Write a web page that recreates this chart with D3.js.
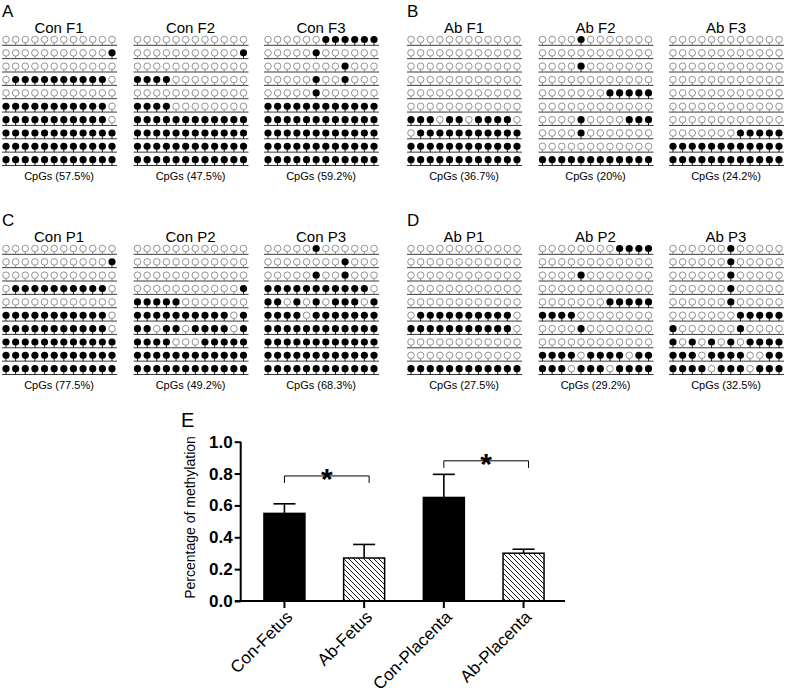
<!DOCTYPE html>
<html><head><meta charset="utf-8">
<script src="https://cdn.jsdelivr.net/npm/d3@7"></script>
<style>body{margin:0;background:#fff}svg{display:block;font-family:Arial,"Liberation Sans",sans-serif}</style>
</head><body><svg id="c" width="787" height="695"></svg>
<script>
// ---- methylation patterns (1 = methylated / filled, 0 = unmethylated / open) ----
const conF1 = ["000000000000","000000000001","000000000000","011111111110","000000000000","111111111110","111111111110","111111111111","111111111111","111111111111"];
const conF2 = ["000000000000","000000000001","000000000000","111100000000","000000000000","111100000000","111111111111","111111111111","111111111111","111111111111"];
const conF3 = ["000000111111","000001000000","000000001000","000001001000","000001000000","111111111111","111111111111","111111111111","111111111111","111111111111"];
const abF1 = ["000000000000","000000000000","000000000000","000000000000","000000000000","000000000000","111011011110","011111111111","111111111111","111111111111"];
const abF2 = ["000010000000","000000000000","000010000000","000000000000","000000011111","000000000000","000010000111","000010000000","000000000000","111111111111"];
const abF3 = ["000000000000","000000000000","000000000000","000000000000","000000000000","000000000000","000000000000","000000011111","111111111111","111111111111"];
const conP1 = ["000000000000","000000000001","000000000000","011111111110","000000000000","111111111110","111111111110","111111111111","111111111111","111111111111"];
const conP2 = ["000000000000","000000000000","000000000000","000000000001","111110000000","111111111101","110110111101","111100011111","111111111111","111111111111"];
const conP3 = ["000001000000","000000001000","000001001000","111111111110","110101011101","111101111111","111111111111","111111111111","111111111111","111111111111"];
const abP1 = ["000000000000","000000000000","000000000000","000000000000","000000000000","011111111110","111111111110","000000000000","000000000000","111111111111"];
const abP2 = ["000000001111","000000000000","000010000000","000000000000","000000011111","111100000000","000010000000","000000000000","111101111011","111011101111"];
const abP3 = ["000000100000","000000100000","000000100000","000000100000","000000100000","000000011111","100000010000","101010101111","111011110011","111101110111"];

const panelLetters = ["A","B","C","D"];
const panelNames = [["Con F1","Con F2","Con F3"],["Ab F1","Ab F2","Ab F3"],["Con P1","Con P2","Con P3"],["Ab P1","Ab P2","Ab P3"]];
const panelPatterns = [[conF1,conF2,conF3],[abF1,abF2,abF3],[conP1,conP2,conP3],[abP1,abP2,abP3]];
const panelPercents = [["57.5%","47.5%","59.2%"],["36.7%","20%","24.2%"],["77.5%","49.2%","68.3%"],["27.5%","29.2%","32.5%"]];

// ---- bar chart (panel E) ----
const groups = ["Con-Fetus","Ab-Fetus","Con-Placenta","Ab-Placenta"];
const means = [0.55, 0.27, 0.65, 0.30];
const sds = [0.06, 0.085, 0.145, 0.025];
const yTicks = [0, 0.2, 0.4, 0.6, 0.8, 1.0];
const sigPairs = [[0,1],[2,3]];

const svg = d3.select("#c");

// ---------- lollipop panels ----------
const panelX0 = [0, 405, 0, 405];
const panelY0 = [39.5, 39.5, 248.5, 248.5];
const subCx = [59, 190.5, 321];
const rowSpan = 120.2;

panelLetters.forEach((L, p) => {
  const g = svg.append("g");
  g.append("text").attr("x", panelX0[p] + 2).attr("y", panelY0[p] - 22.5)
    .attr("font-size", 17).text(L);
  panelPatterns[p].forEach((pat, s) => {
    const cx = panelX0[p] + subCx[s];
    const x = d3.scaleLinear().domain([0, 11]).range([cx - 53, cx + 53]);
    const y = d3.scaleLinear().domain([0, 9]).range([panelY0[p], panelY0[p] + rowSpan]);
    const sg = g.append("g");
    sg.append("text").attr("x", cx).attr("y", panelY0[p] - 6.5).attr("text-anchor", "middle")
      .attr("font-size", 15).text(panelNames[p][s]);
    const rows = sg.selectAll("g.row").data(pat).join("g").attr("class", "row");
    rows.append("line").attr("x1", x(0) - 4).attr("x2", x(11) + 5)
      .attr("y1", (d, i) => y(i) + 5.8).attr("y2", (d, i) => y(i) + 5.8)
      .attr("stroke", "#3a3a3a").attr("stroke-width", 1);
    rows.each(function(str, i) {
      const cells = str.split("").map((c, j) => ({j, m: c === "1"}));
      const rg = d3.select(this);
      rg.selectAll("line.stem").data(cells).join("line").attr("class", "stem")
        .attr("x1", d => x(d.j)).attr("x2", d => x(d.j))
        .attr("y1", y(i) + 3.3).attr("y2", y(i) + 5.8)
        .attr("stroke", d => d.m ? "#000" : "#777").attr("stroke-width", 0.9);
      rg.selectAll("circle").data(cells).join("circle")
        .attr("cx", d => x(d.j)).attr("cy", y(i)).attr("r", d => d.m ? 3.6 : 3.3)
        .attr("fill", d => d.m ? "#000" : "#fff")
        .attr("stroke", d => d.m ? "#000" : "#777").attr("stroke-width", d => d.m ? 0 : 0.8);
    });
    sg.append("text").attr("x", cx).attr("y", panelY0[p] + rowSpan + 20.5).attr("text-anchor", "middle")
      .attr("font-size", 11).text("CpGs (" + panelPercents[p][s] + ")");
  });
});

// ---------- bar chart ----------
const defs = svg.append("defs");
const pat = defs.append("pattern").attr("id", "hatch").attr("patternUnits", "userSpaceOnUse")
  .attr("width", 5).attr("height", 5);
pat.append("rect").attr("width", 5).attr("height", 5).attr("fill", "#fff");
pat.append("path").attr("d", "M-1,-1 L6,6 M-1,4 L1,6 M4,-1 L6,1").attr("stroke", "#000").attr("stroke-width", 0.9);

const yS = d3.scaleLinear().domain([0, 1]).range([601, 441.7]);
const xS = d3.scaleBand().domain(groups).range([244.6, 563.4]).padding(0);
const cxOf = d => xS(d) + xS.bandwidth() / 2;
const bw = 41;
const e = svg.append("g");

e.append("text").attr("x", 181).attr("y", 427).attr("font-size", 20).text("E");

// y axis
const yAxis = d3.axisLeft(yS).tickValues(yTicks).tickFormat(d3.format(".1f")).tickSize(6).tickPadding(2);
const ya = e.append("g").attr("transform", "translate(240.7,0)").call(yAxis);
ya.select(".domain").attr("stroke-width", 2).attr("d", `M0,${yS(1)}V${yS(0)}`);
ya.selectAll(".tick line").attr("stroke-width", 2);
ya.selectAll(".tick text").attr("font-size", 17).attr("font-weight", "bold")
  .attr("font-family", "Arial, 'Liberation Sans', sans-serif").attr("fill", "#000");

e.append("text").attr("transform", "translate(195,517.5) rotate(-90)").attr("text-anchor", "middle")
  .attr("font-size", 14).text("Percentage of methylation");

// bars
e.selectAll("rect.bar").data(groups).join("rect").attr("class", "bar")
  .attr("x", d => cxOf(d) - bw / 2).attr("width", bw)
  .attr("y", (d, i) => yS(means[i])).attr("height", (d, i) => yS(0) - yS(means[i]))
  .attr("fill", (d, i) => i % 2 === 0 ? "#000" : "url(#hatch)")
  .attr("stroke", "#000").attr("stroke-width", 1.5);

// error bars (upper)
groups.forEach((d, i) => {
  const c = cxOf(d);
  e.append("line").attr("x1", c).attr("x2", c).attr("y1", yS(means[i])).attr("y2", yS(means[i] + sds[i]))
    .attr("stroke", "#000").attr("stroke-width", 1.6);
  e.append("line").attr("x1", c - 11).attr("x2", c + 11).attr("y1", yS(means[i] + sds[i])).attr("y2", yS(means[i] + sds[i]))
    .attr("stroke", "#000").attr("stroke-width", 1.6);
});

// x axis
const xAxis = d3.axisBottom(xS).tickSize(7).tickFormat("");
const xa = e.append("g").attr("transform", `translate(0,${yS(0)})`).call(xAxis);
xa.select(".domain").attr("stroke-width", 2).attr("d", "M235,0H565");
xa.selectAll(".tick line").attr("stroke-width", 2);

e.selectAll("text.xl").data(groups).join("text").attr("class", "xl")
  .attr("transform", d => `translate(${cxOf(d) + 9},${618}) rotate(-45)`)
  .attr("text-anchor", "end").attr("font-size", 17).text(d => d);

// significance brackets
const brY = [0.785, 0.88];
sigPairs.forEach((pr, k) => {
  const x1 = cxOf(groups[pr[0]]), x2 = cxOf(groups[pr[1]]) + 5;
  const yy = yS(brY[k]);
  e.append("path").attr("d", `M${x1},${yy + 7}V${yy}H${x2}V${yy + 7}`)
    .attr("fill", "none").attr("stroke", "#000").attr("stroke-width", 1);
  e.append("text").attr("x", (x1 + x2) / 2).attr("y", yy + 13).attr("text-anchor", "middle")
    .attr("font-size", 30).attr("font-weight", "bold").text("*");
});
</script></body></html>
